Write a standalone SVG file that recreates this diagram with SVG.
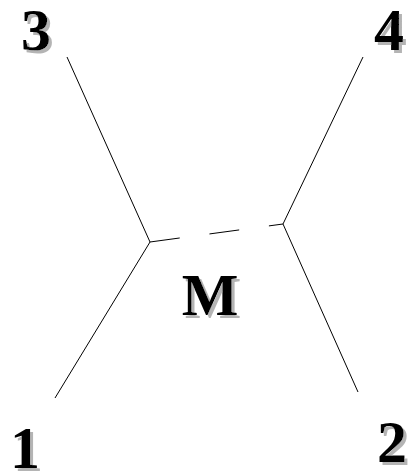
<svg xmlns="http://www.w3.org/2000/svg" width="410" height="472" viewBox="0 0 410 472">
<defs>
<filter id="shadow" x="-20%" y="-20%" width="150%" height="150%">
<feFlood flood-color="#b4b4b4" result="c"/>
<feComposite in="c" in2="SourceAlpha" operator="in" result="s"/>
<feOffset in="s" dx="3" dy="3" result="o"/>
<feMerge><feMergeNode in="o"/><feMergeNode in="SourceGraphic"/></feMerge>
</filter>
</defs>
<style>
.ln{stroke:#000;stroke-width:1;fill:none}
.lbl{font-family:"Liberation Serif","Times New Roman",serif;font-weight:bold;font-size:60px;text-anchor:middle;fill:#000;filter:url(#shadow)}
</style>
<rect width="410" height="472" fill="#fff"/>
<g id="connectors">
<line class="ln" x1="67" y1="57" x2="150" y2="242"/>
<line class="ln" x1="150" y1="242" x2="55" y2="398"/>
<line class="ln" x1="283" y1="224" x2="363" y2="57"/>
<line class="ln" x1="283" y1="224" x2="358" y2="392"/>
<line class="ln" x1="150" y1="242" x2="283" y2="224" stroke-dasharray="30 30"/>
</g>
<g id="n3"><text class="lbl" x="36" y="50">3</text></g>
<g id="n4"><text class="lbl" x="389" y="50">4</text></g>
<g id="n1"><text class="lbl" x="25" y="468">1</text></g>
<g id="n2"><text class="lbl" x="392" y="462">2</text></g>
<g id="nM"><text class="lbl" x="210" y="315">M</text></g>
</svg>
